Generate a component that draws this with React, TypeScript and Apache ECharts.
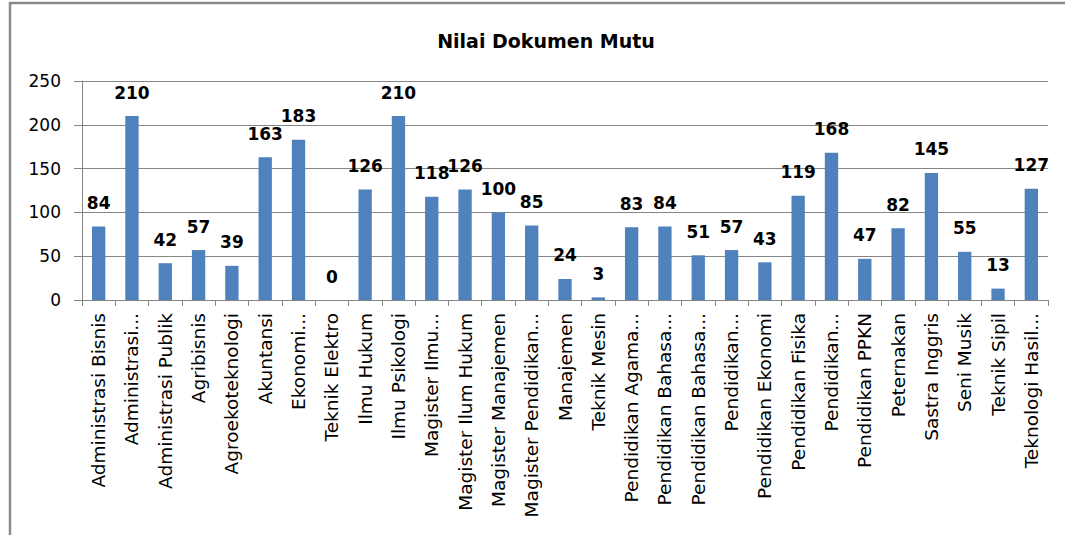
import React, { useEffect, useRef } from "react";
import * as echarts from "echarts";

const categories = [
  "Administrasi Bisnis",
  "Administrasi...",
  "Administrasi Publik",
  "Agribisnis",
  "Agroekoteknologi",
  "Akuntansi",
  "Ekonomi...",
  "Teknik Elektro",
  "Ilmu Hukum",
  "Ilmu Psikologi",
  "Magister Ilmu...",
  "Magister Ilum Hukum",
  "Magister Manajemen",
  "Magister Pendidikan...",
  "Manajemen",
  "Teknik Mesin",
  "Pendidikan Agama...",
  "Pendidikan Bahasa...",
  "Pendidikan Bahasa...",
  "Pendidikan...",
  "Pendidikan Ekonomi",
  "Pendidikan Fisika",
  "Pendidikan...",
  "Pendidikan PPKN",
  "Peternakan",
  "Sastra Inggris",
  "Seni Musik",
  "Teknik Sipil",
  "Teknologi Hasil...",
];

const values = [84, 210, 42, 57, 39, 163, 183, 0, 126, 210, 118, 126, 100, 85, 24, 3, 83, 84, 51, 57, 43, 119, 168, 47, 82, 145, 55, 13, 127];

const yTicks = [0, 50, 100, 150, 200, 250];

const FONT = "'DejaVu Sans', sans-serif";

export default function App() {
  const ref = useRef<HTMLDivElement>(null);
  useEffect(() => {
    if (!ref.current) return;
    const chart = echarts.init(ref.current, null, { renderer: "svg" });
    chart.setOption({
      animation: false,
      backgroundColor: "#ffffff",
      title: {
        text: "Nilai Dokumen Mutu",
        left: 541,
        textAlign: "center",
        top: 26,
        textStyle: { fontFamily: FONT, fontSize: 19, fontWeight: "bold", color: "#000" },
      },
      graphic: [
        {
          type: "rect",
          shape: { x: 10, y: 3, width: 1100, height: 600 },
          style: { fill: "none", stroke: "#8a8a8a", lineWidth: 2.5 },
          silent: true,
        },
      ],
      grid: { left: 82, right: 17, top: 81, bottom: 235, containLabel: false },
      xAxis: {
        type: "category",
        data: categories,
        axisLine: { show: true, lineStyle: { color: "#868686", width: 1 } },
        axisTick: { show: true, alignWithLabel: false, length: 6, lineStyle: { color: "#868686" } },
        axisLabel: {
          rotate: 90,
          interval: 0,
          margin: 13,
          fontFamily: FONT,
          fontSize: 18.5,
          color: "#000",
        },
      },
      yAxis: {
        type: "value",
        min: yTicks[0],
        max: yTicks[yTicks.length - 1],
        interval: 50,
        axisLine: { show: true, lineStyle: { color: "#868686" } },
        axisTick: { show: true, length: 8, lineStyle: { color: "#868686" } },
        splitLine: { show: true, lineStyle: { color: "#868686", width: 1 } },
        axisLabel: { fontFamily: FONT, fontSize: 17, color: "#000", margin: 21 },
      },
      series: [
        {
          type: "bar",
          data: values,
          barWidth: "40%",
          itemStyle: { color: "#4F81BD" },
          label: {
            show: true,
            position: "top",
            distance: 15,
            fontFamily: FONT,
            fontSize: 17,
            fontWeight: "bold",
            color: "#000",
          },
        },
      ],
    });
    return () => chart.dispose();
  }, []);
  return <div ref={ref} style={{ position: "fixed", left: 0, top: 0, width: 1065, height: 535 }} />;
}
